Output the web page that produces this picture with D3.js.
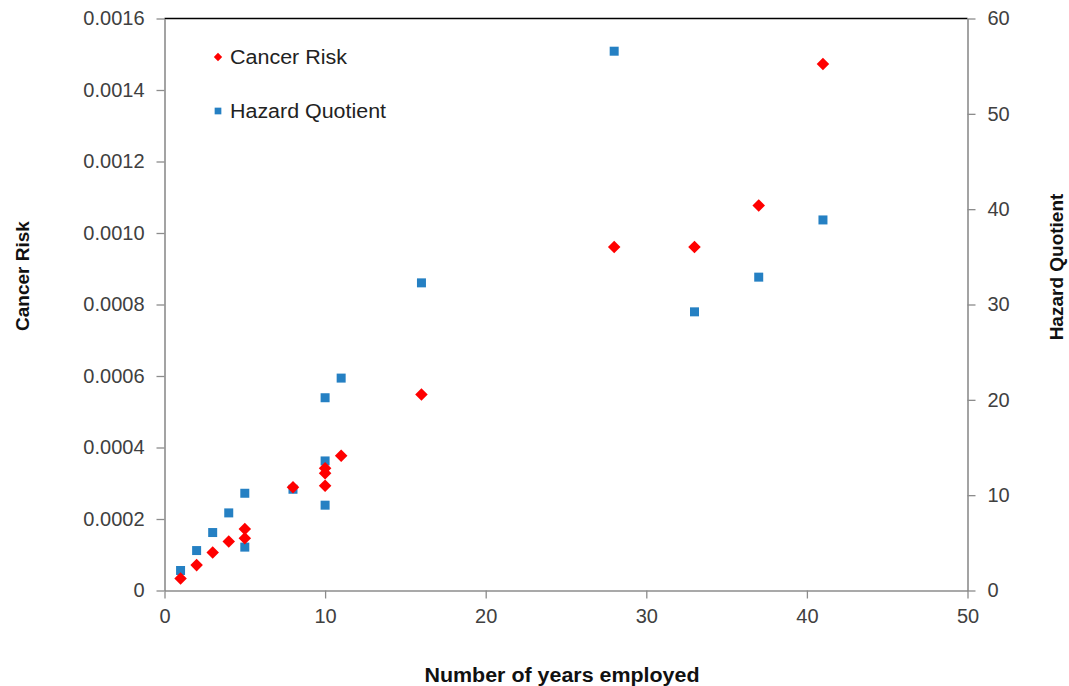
<!DOCTYPE html>
<html>
<head>
<meta charset="utf-8">
<script src="https://cdn.jsdelivr.net/npm/d3@7"></script>
<style>
  html, body { margin: 0; padding: 0; background: #fff; }
  svg { display: block; font-family: "Liberation Sans", Arial, sans-serif; }
</style>
</head>
<body>
<svg id="chart" width="1069" height="686"></svg>
<script>
// ---- data ----
const yearsCR = [1, 2, 3, 4, 5, 5, 8, 10, 10, 10, 11, 16, 28, 33, 37, 41];
const cancerRisk = [0.0000335, 0.000071, 0.000106, 0.000137, 0.000146, 0.000172, 0.000289, 0.000293, 0.000328, 0.000342, 0.000377, 0.000548, 0.000961, 0.000961, 0.001077, 0.001473];
const yearsHQ = [1, 2, 3, 4, 5, 5, 8, 10, 10, 10, 11, 16, 28, 33, 37, 41];
const hazardQuotient = [2.1, 4.19, 6.08, 8.14, 10.2, 4.55, 10.62, 8.95, 13.59, 20.22, 22.28, 32.27, 56.57, 29.23, 32.87, 38.87];
const xTicks = [0, 10, 20, 30, 40, 50];
const leftTicks = [0, 0.0002, 0.0004, 0.0006, 0.0008, 0.0010, 0.0012, 0.0014, 0.0016];
const leftTickLabels = ["0", "0.0002", "0.0004", "0.0006", "0.0008", "0.0010", "0.0012", "0.0014", "0.0016"];
const rightTicks = [0, 10, 20, 30, 40, 50, 60];
const seriesNames = ["Cancer Risk", "Hazard Quotient"];

// ---- layout ----
const svg = d3.select("#chart");
const L = 164.5, R = 967.5, T = 18.5, B = 590.5;
const axisColor = "#8c8c8c";
const labelColor = "#404040";
const redC = "#ff0000", blueC = "#2580c3";

const x = d3.scaleLinear().domain([0, 50]).range([L, R]);
const yL = d3.scaleLinear().domain([0, 0.0016]).range([B, T]);
const yR = d3.scaleLinear().domain([0, 60]).range([B, T]);

// top border
svg.append("line").attr("x1", L).attr("x2", R).attr("y1", T).attr("y2", T)
  .attr("stroke", "#000").attr("stroke-width", 1.3);

function styleAxis(g) {
  g.select(".domain").attr("stroke", axisColor).attr("stroke-width", 1.6);
  g.selectAll(".tick line").attr("stroke", axisColor).attr("stroke-width", 1.3);
  g.selectAll(".tick text").attr("fill", labelColor).attr("font-size", "20px")
    .attr("font-family", "'Liberation Sans', Arial, sans-serif");
}

const gx = svg.append("g").attr("transform", `translate(0,${B})`)
  .call(d3.axisBottom(x).tickValues(xTicks).tickSize(8).tickSizeOuter(0).tickPadding(10).tickFormat(d3.format("d")));
styleAxis(gx);

const gl = svg.append("g").attr("transform", `translate(${L},0)`)
  .call(d3.axisLeft(yL).tickValues(leftTicks).tickSize(8).tickSizeOuter(0).tickPadding(12)
    .tickFormat((d, i) => leftTickLabels[i]));
styleAxis(gl);

const gr = svg.append("g").attr("transform", `translate(${R},0)`)
  .call(d3.axisRight(yR).tickValues(rightTicks).tickSize(8).tickSizeOuter(0).tickPadding(12).tickFormat(d3.format("d")));
styleAxis(gr);

// axis titles
svg.append("text").attr("x", 562).attr("y", 682).attr("text-anchor", "middle")
  .attr("font-size", "20px").attr("font-weight", "bold").attr("fill", "#111")
  .attr("textLength", 275).attr("lengthAdjust", "spacingAndGlyphs")
  .text("Number of years employed");
svg.append("text").attr("transform", "translate(29,276) rotate(-90)").attr("text-anchor", "middle")
  .attr("font-size", "19px").attr("font-weight", "bold").attr("fill", "#111")
  .text("Cancer Risk");
svg.append("text").attr("transform", "translate(1063,267) rotate(-90)").attr("text-anchor", "middle")
  .attr("font-size", "19px").attr("font-weight", "bold").attr("fill", "#111")
  .text("Hazard Quotient");

// markers
const diamond = d3.symbol().type(d3.symbolDiamond2).size(100);
const square = d3.symbol().type(d3.symbolSquare).size(81);

svg.append("g").selectAll("path").data(yearsHQ.map((v, i) => [v, hazardQuotient[i]]))
  .join("path").attr("d", square)
  .attr("transform", d => `translate(${x(d[0])},${yR(d[1])})`)
  .attr("fill", blueC);

svg.append("g").selectAll("path").data(yearsCR.map((v, i) => [v, cancerRisk[i]]))
  .join("path").attr("d", diamond)
  .attr("transform", d => `translate(${x(d[0])},${yL(d[1])})`)
  .attr("fill", redC);

// legend
const leg = svg.append("g");
leg.append("path").attr("d", d3.symbol().type(d3.symbolDiamond2).size(45))
  .attr("transform", "translate(218,57)").attr("fill", redC);
leg.append("text").attr("x", 230).attr("y", 64).attr("font-size", "20px").attr("fill", "#222")
  .attr("textLength", 117).attr("lengthAdjust", "spacingAndGlyphs")
  .text(seriesNames[0]);
leg.append("path").attr("d", d3.symbol().type(d3.symbolSquare).size(45))
  .attr("transform", "translate(218,111)").attr("fill", blueC);
leg.append("text").attr("x", 230).attr("y", 118).attr("font-size", "20px").attr("fill", "#222")
  .attr("textLength", 156).attr("lengthAdjust", "spacingAndGlyphs")
  .text(seriesNames[1]);
</script>
</body>
</html>
